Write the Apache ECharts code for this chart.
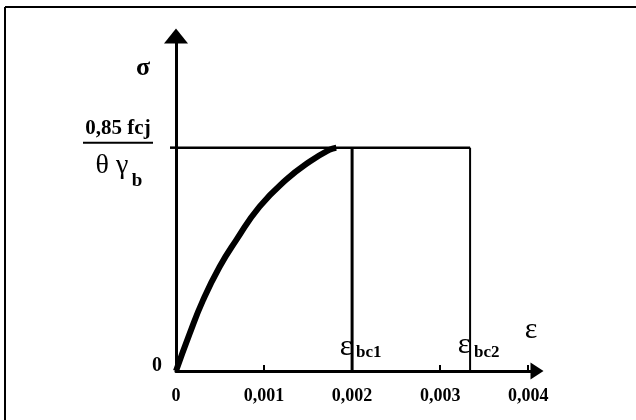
<!DOCTYPE html>
<html>
<head>
<meta charset="utf-8">
<script src="https://cdn.jsdelivr.net/npm/echarts@6/dist/echarts.min.js"></script>
<style>
    html, body { margin: 0; padding: 0; background: #fff; }
    #stress { width: 636px; height: 420px; }
</style>
</head>
<body>
<div id="stress"></div>
<script>
var epsCurve = [0, 0.000153, 0.000305, 0.000494, 0.000684, 0.000949, 0.00125, 0.00152, 0.00174, 0.00182];
var sigCurve = [0, 0.165, 0.315, 0.466, 0.586, 0.736, 0.856, 0.938, 0.99, 1];
var epsBc1 = 0.002;
var epsBc2 = 0.00334;
var sigMax = 1;
var xTickLabels = ['0', '0,001', '0,002', '0,003', '0,004'];

var serif = "'Liberation Serif', 'Times New Roman', serif";

var stress = echarts.init(document.getElementById('stress'));
var stressoption = {
    animation: false,
    backgroundColor: '#fff',
    grid: {
        left: 176,
        right: 99,
        top: 36,
        bottom: 49,
        containLabel: false,
        outerBoundsMode: 'none'
    },
    xAxis: {
        type: 'value',
        min: 0,
        max: 0.0041,
        interval: 0.001,
        splitLine: { show: false },
        axisLine: {
            lineStyle: { color: '#000', width: 3 },
            symbol: ['none', 'triangle'],
            symbolSize: [17, 13]
        },
        axisTick: { show: true, inside: true, length: 6, lineStyle: { color: '#000', width: 2 } },
        axisLabel: {
            margin: 16,
            showMaxLabel: false,
            color: '#000',
            fontSize: 18,
            fontWeight: 'bold',
            fontFamily: serif,
            formatter: function (v) {
                var i = Math.round(v / 0.001);
                if (Math.abs(v - i * 0.001) > 1e-7) return '';
                return xTickLabels[i] || '';
            }
        }
    },
    yAxis: {
        type: 'value',
        min: 0,
        max: 1.5,
        interval: 0.5,
        splitLine: { show: false },
        axisTick: { show: false },
        axisLabel: { show: false },
        axisLine: {
            lineStyle: { color: '#000', width: 3 },
            symbol: ['none', 'triangle'],
            symbolSize: [24, 15]
        }
    },
    series: [
        {
            name: 'parabole',
            type: 'line',
            smooth: true,
            symbol: 'none',
            lineStyle: { color: '#000', width: 6 },
            data: epsCurve.map(function (e, i) { return [e, sigCurve[i]]; }),
            z: 5
        },
        {
            name: 'palier',
            type: 'line',
            symbol: 'none',
            lineStyle: { color: '#000', width: 2.5 },
            data: [[0, sigMax], [epsBc2, sigMax]]
        },
        {
            name: 'bc1',
            type: 'line',
            symbol: 'none',
            lineStyle: { color: '#000', width: 3 },
            data: [[epsBc1, 0], [epsBc1, sigMax]]
        },
        {
            name: 'bc2',
            type: 'line',
            symbol: 'none',
            lineStyle: { color: '#000', width: 2 },
            data: [[epsBc2, 0], [epsBc2, sigMax]]
        }
    ]
};
stress.setOption(stressoption);

// annotations placées à partir des coordonnées du graphique
var org = stress.convertToPixel({ gridIndex: 0 }, [0, 0]);
var pk = stress.convertToPixel({ gridIndex: 0 }, [0, sigMax]);
var b1 = stress.convertToPixel({ gridIndex: 0 }, [epsBc1, 0]);
var b2 = stress.convertToPixel({ gridIndex: 0 }, [epsBc2, 0]);
var xe = stress.convertToPixel({ gridIndex: 0 }, [0.0041, 0]);

function txt(x, y, s, size, weight, align) {
    return {
        type: 'text', x: x, y: y, z: 10,
        style: {
            text: s, fill: '#000',
            font: (weight || 'normal') + ' ' + size + 'px ' + serif,
            align: align || 'center', verticalAlign: 'middle'
        }
    };
}

stress.setOption({
    graphic: [
        // cadre du scan
        { type: 'line', shape: { x1: 5, y1: 7, x2: 636, y2: 7 }, style: { stroke: '#000', lineWidth: 2 } },
        { type: 'line', shape: { x1: 5, y1: 7, x2: 5, y2: 420 }, style: { stroke: '#000', lineWidth: 2 } },
        // le palier dépasse un peu à gauche de l'axe
        { type: 'line', shape: { x1: pk[0] - 6, y1: pk[1], x2: pk[0], y2: pk[1] }, style: { stroke: '#000', lineWidth: 2.5 } },
        txt(org[0] - 33, 68, 'σ', 26, 'bold'),
        txt(org[0] - 19, org[1] - 5, '0', 20, 'bold'),
        txt(pk[0] - 58, pk[1] - 19, '0,85 fcj', 21, 'bold'),
        { type: 'line', shape: { x1: pk[0] - 93, y1: pk[1] - 5, x2: pk[0] - 23, y2: pk[1] - 5 }, style: { stroke: '#000', lineWidth: 2 } },
        txt(pk[0] - 64, pk[1] + 18, 'θ γ', 28),
        txt(pk[0] - 39, pk[1] + 33, 'b', 19, 'bold'),
        txt(xe[0] - 6, xe[1] - 41, 'ε', 30),
        txt(b1[0] - 6, b1[1] - 24, 'ε', 30),
        txt(b1[0] + 4, b1[1] - 18, 'bc1', 17, 'bold', 'left'),
        txt(b2[0] - 6, b2[1] - 26, 'ε', 30),
        txt(b2[0] + 4, b2[1] - 18, 'bc2', 17, 'bold', 'left')
    ]
});

window.addEventListener('resize', function () {
    stress.resize();
});
</script>
</body>
</html>
